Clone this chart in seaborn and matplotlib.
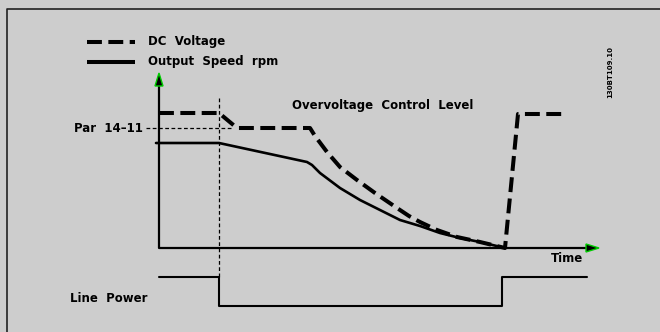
import numpy as np
import pandas as pd
import matplotlib
matplotlib.use("Agg")
import matplotlib.pyplot as plt
import seaborn as sns
from matplotlib.patches import Polygon

# --- series (time, level) ---
dc_time = [0, 60, 78, 151, 156, 168, 181, 198, 216, 238, 250, 261, 278, 298, 321, 346, 359, 404]
dc_level = [135, 135, 120, 120, 112, 96, 81, 68, 55, 40, 32, 26, 18, 11, 6, 0, 134, 134]

speed_time = [-3, 60, 148, 153, 161, 181, 201, 221, 241, 261, 281, 301, 321, 346]
speed_level = [105, 105, 86, 83, 75, 60, 48, 38, 28, 22, 15, 10, 6, 0]

power_time = [0, 60, 60, 343, 343, 428]
power_level = [-29, -29, -58, -58, -29, -29]

# reference levels / events
mains_loss_time = 60
par_level = 120

BG = "#cdcdcd"
INK = "#000000"

sns.set_theme(style="white")
plt.rcParams["font.family"] = ["DejaVu Sans"]
plt.rcParams["font.weight"] = "bold"
plt.rcParams["text.color"] = INK

fig = plt.figure(figsize=(6.6, 3.32), dpi=100, facecolor=BG)
ax = fig.add_axes([0, 0, 1, 1])
ax.set_facecolor(BG)
ax.set_xlim(-159, 501)
ax.set_ylim(-84, 248)
ax.axis("off")

dc = pd.DataFrame({"t": dc_time, "v": dc_level})
sp = pd.DataFrame({"t": speed_time, "v": speed_level})
pw = pd.DataFrame({"t": power_time, "v": power_level})

# outer frame
ax.plot([-152, -152, 501], [-84, 239, 239], color="#222222", lw=1.2, solid_capstyle="butt")

# axes with arrow heads
ax.plot([0, 0, 428], [163, 0, 0], color=INK, lw=1.6)
ax.add_patch(Polygon([[-4, 162], [4, 162], [0, 175]], closed=True,
                     facecolor=INK, edgecolor="#00cc00", lw=1.0, zorder=5))
ax.add_patch(Polygon([[427, 4], [427, -4], [440, 0]], closed=True,
                     facecolor=INK, edgecolor="#00cc00", lw=1.0, zorder=5))

# thin dashed guides
ax.plot([mains_loss_time, mains_loss_time], [150, -29], color=INK, lw=0.9,
        dashes=(3, 2))
ax.plot([-13, 74], [par_level, par_level], color=INK, lw=0.9, dashes=(3, 2))

# curves
sns.lineplot(data=dc, x="t", y="v", sort=False, estimator=None, ax=ax,
             color=INK, lw=2.9, legend=False)
ax.lines[-1].set_dashes((3.7, 1.6))
ax.lines[-1].set_dash_capstyle("butt")
ax.lines[-1].set_solid_joinstyle("round")
sns.lineplot(data=sp, x="t", y="v", sort=False, estimator=None, ax=ax,
             color=INK, lw=1.9, legend=False)
sns.lineplot(data=pw, x="t", y="v", sort=False, estimator=None, ax=ax,
             color=INK, lw=1.5, legend=False)

# legend keys
ax.plot([-72, -24], [206, 206], color=INK, lw=2.9, dashes=(3.7, 1.6),
        dash_capstyle="butt")
ax.plot([-72, -24], [186, 186], color=INK, lw=2.9, solid_capstyle="butt")

fs = 8.5
kw = dict(fontsize=fs, fontweight="bold", color=INK)
ax.text(-11, 206, "DC  Voltage", ha="left", va="center", **kw)
ax.text(-11, 186, "Output  Speed  rpm", ha="left", va="center", **kw)
ax.text(133, 142, "Overvoltage  Control  Level", ha="left", va="center", **kw)
ax.text(-16, par_level, "Par  14\u201311", ha="right", va="center", **kw)
ax.text(408, -11, "Time", ha="center", va="center", **kw)
ax.text(-89, -50, "Line  Power", ha="left", va="center", **kw)
ax.text(451, 176, "130BT109.10", ha="center", va="center", rotation=90,
        fontsize=5, fontweight="bold", color=INK)

fig.savefig("out.png", dpi=100, facecolor=BG)
